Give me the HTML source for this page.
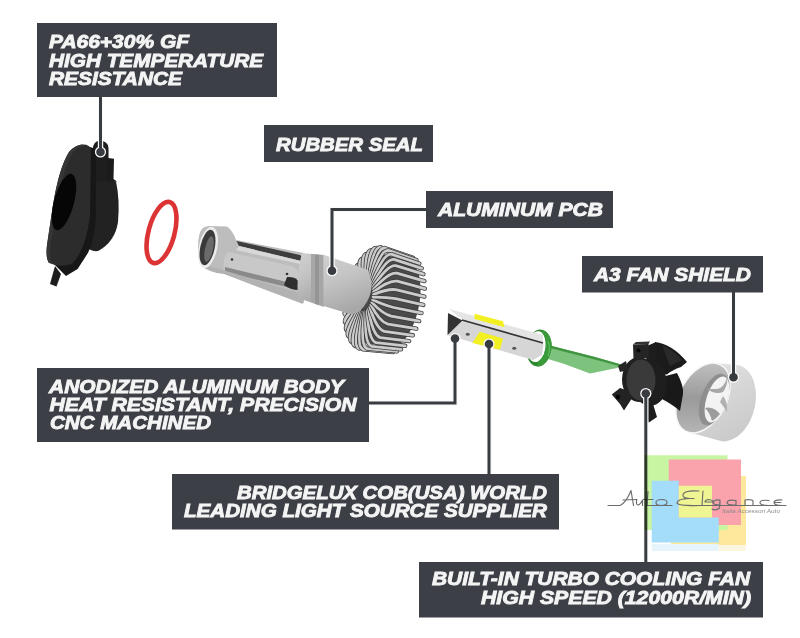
<!DOCTYPE html>
<html><head><meta charset="utf-8">
<style>
html,body{margin:0;padding:0;background:#fff;}
body{width:800px;height:638px;overflow:hidden;position:relative;}
svg{position:absolute;left:0;top:0;}
.t{font-family:"Liberation Sans",sans-serif;font-weight:bold;font-style:italic;font-size:18.5px;fill:#f4f4f4;stroke:#f4f4f4;stroke-width:0.9px;}
</style></head>
<body>
<svg width="800" height="638" viewBox="0 0 800 638">
<defs>
  <linearGradient id="gCyl" x1="0" y1="0" x2="0.3" y2="1">
    <stop offset="0" stop-color="#d0d0d0"/>
    <stop offset="0.45" stop-color="#c4c4c4"/>
    <stop offset="1" stop-color="#a8a8a8"/>
  </linearGradient>
  <clipPath id="clipR"><rect x="540" y="300" width="30" height="100"/></clipPath>
  <linearGradient id="gBody" x1="0" y1="0" x2="0" y2="1">
    <stop offset="0" stop-color="#d4d4d4"/>
    <stop offset="0.5" stop-color="#bdbdbd"/>
    <stop offset="1" stop-color="#8e8e8e"/>
  </linearGradient>
  <linearGradient id="gShield" x1="0" y1="0" x2="0.6" y2="1">
    <stop offset="0" stop-color="#ececec"/>
    <stop offset="0.5" stop-color="#d8d8d8"/>
    <stop offset="1" stop-color="#cbcbcb"/>
  </linearGradient>
  <linearGradient id="gShieldIn" x1="0.2" y1="0" x2="0.5" y2="1">
    <stop offset="0" stop-color="#c4c4c4"/>
    <stop offset="0.55" stop-color="#9a9a9a"/>
    <stop offset="1" stop-color="#b4b4b4"/>
  </linearGradient>
</defs>

<!-- ============ BLACK ADAPTER ============ -->
<g id="adapter">
  <path d="M55 266 L61 274 L56.5 286.5 L50 284 Z" fill="#1d1d1d"/>
  <path d="M92.6 150 Q93 141 100 140.5 Q108 141 108.5 148 L108.5 190 L94 190 Z" fill="#1e1e1e"/>
  <path d="M108 158 L114 158.8 L113.5 179 L117 181.4 L106 183 Z" fill="#1b1b1b"/>
  <path d="M94 181 L116 181.4 Q120 200 118 222 Q115 242 98 251 Q90 252 86 246 Z" fill="#222"/>
  <path d="M84 145 L96 149 L96 215 Q94 245 86 256 L77.6 269 L66 276 L54 264 Q66 262 70 258 Q82 246 86 215 Z" fill="#171717"/>
  <path d="M82 144.5 Q90 144 91 150 L90 215 Q86 250 72 264 Q60 268 49 263 Q45.5 258 47 245 L53 205 Q59 168 69 152 Q75 145 82 144.5 Z" fill="#2c2c2c"/>
  <path d="M82 144.5 Q75 145 69 152 Q59 168 53 205 L47 245 Q45.5 258 49 263 L51.5 263 Q49 255 51 243 L57 205 Q63 170 72 154 Q77 147 84 146 Z" fill="#363636"/>
  <ellipse cx="64" cy="202" rx="10" ry="29" transform="rotate(15 64 202)" fill="#060606"/>
</g>

<!-- ============ O-RING ============ -->
<ellipse cx="161.5" cy="232.5" rx="13" ry="31.5" transform="rotate(15 161.5 232.5)" fill="none" stroke="#dc3434" stroke-width="4.6"/>

<!-- ============ BULB BODY ============ -->
<g id="bulb">
  <!-- heatsink -->
<!--HS-->
<path d="M345.7 311.7 L345.7 309.5 L345.9 307.2 L346.0 304.9 L346.3 302.5 L346.6 300.2 L346.9 297.8 L347.3 295.5 L347.8 293.1 L348.3 290.8 L348.9 288.5 L349.6 286.2 L350.2 283.9 L351.0 281.7 L351.7 279.5 L352.6 277.4 L353.4 275.3 L354.3 273.3 L355.3 271.3 L356.2 269.4 L357.3 267.6 L358.3 265.9 L359.4 264.3 L360.4 262.7 L361.5 261.3 L362.7 259.9 L363.8 258.7 L365.0 257.5 L366.1 256.5 L367.3 255.6 L368.5 254.8 L369.6 254.1 L370.8 253.5 L371.9 253.1 L373.1 252.7 L374.2 252.5 L375.3 252.5 L376.4 252.5 L377.5 252.7 L378.5 252.9 L409.3 261.6 L410.3 262.0 L411.2 262.5 L412.1 263.1 L413.0 263.9 L413.8 264.7 L414.6 265.6 L415.4 266.7 L416.1 267.9 L416.7 269.1 L417.3 270.5 L417.9 271.9 L418.4 273.4 L418.9 275.1 L419.3 276.7 L419.6 278.5 L419.9 280.4 L420.1 282.3 L420.3 284.2 L420.4 286.2 L420.5 288.3 L420.5 290.4 L420.5 292.6 L420.3 294.8 L420.2 297.0 L420.0 299.2 L419.7 301.4 L419.3 303.7 L418.9 305.9 L418.5 308.2 L418.0 310.4 L417.4 312.6 L416.8 314.8 L416.2 316.9 L415.5 319.1 L414.7 321.2 L414.0 323.2 L413.1 325.2 L412.3 327.1 L411.4 329.0 L410.4 330.8 L409.5 332.5 L408.5 334.1 L407.5 335.7 L406.4 337.2 L405.4 338.6 L404.3 339.8 L403.2 341.0 L402.1 342.1 L401.0 343.1 L399.9 344.0 L398.8 344.8 L397.7 345.4 L396.6 346.0 L395.5 346.4 L394.4 346.7 L393.3 346.9 L392.2 347.0 L391.2 346.9 L359.5 342.3 L358.4 342.2 L357.4 341.9 L356.4 341.5 L355.4 341.0 L354.5 340.3 L353.6 339.5 L352.7 338.7 L351.9 337.7 L351.1 336.6 L350.3 335.4 L349.6 334.0 L349.0 332.6 L348.4 331.1 L347.9 329.5 L347.4 327.8 L347.0 326.0 L346.6 324.2 L346.3 322.3 L346.1 320.3 L345.9 318.2 L345.8 316.1 L345.7 313.9 Z" fill="#4a4a4a"/>
<path d="M358.9 296.9 Q340.8 296.2 348.1 297.8" stroke="#3c3c3c" stroke-width="4.4" fill="none" stroke-linejoin="round" stroke-linecap="round"/>
<path d="M358.9 296.9 Q340.8 296.2 348.1 297.8" stroke="#cbcbcb" stroke-width="2.8" fill="none" stroke-linejoin="round" stroke-linecap="round"/>
<path d="M359.4 294.2 Q342.6 287.5 350.0 289.0" stroke="#3c3c3c" stroke-width="4.4" fill="none" stroke-linejoin="round" stroke-linecap="round"/>
<path d="M359.4 294.2 Q342.6 287.5 350.0 289.0" stroke="#cbcbcb" stroke-width="2.8" fill="none" stroke-linejoin="round" stroke-linecap="round"/>
<path d="M358.5 299.5 Q339.6 304.9 347.0 306.7" stroke="#3c3c3c" stroke-width="4.4" fill="none" stroke-linejoin="round" stroke-linecap="round"/>
<path d="M358.5 299.5 Q339.6 304.9 347.0 306.7" stroke="#cbcbcb" stroke-width="2.8" fill="none" stroke-linejoin="round" stroke-linecap="round"/>
<path d="M360.2 291.6 Q345.1 279.1 352.6 280.4" stroke="#3c3c3c" stroke-width="4.4" fill="none" stroke-linejoin="round" stroke-linecap="round"/>
<path d="M360.2 291.6 Q345.1 279.1 352.6 280.4" stroke="#cbcbcb" stroke-width="2.8" fill="none" stroke-linejoin="round" stroke-linecap="round"/>
<path d="M358.4 302.1 Q339.2 313.3 346.6 315.3" stroke="#3c3c3c" stroke-width="4.4" fill="none" stroke-linejoin="round" stroke-linecap="round"/>
<path d="M358.4 302.1 Q339.2 313.3 346.6 315.3" stroke="#cbcbcb" stroke-width="2.8" fill="none" stroke-linejoin="round" stroke-linecap="round"/>
<path d="M361.1 289.2 Q348.2 271.2 355.7 272.3" stroke="#3c3c3c" stroke-width="4.4" fill="none" stroke-linejoin="round" stroke-linecap="round"/>
<path d="M361.1 289.2 Q348.2 271.2 355.7 272.3" stroke="#cbcbcb" stroke-width="2.8" fill="none" stroke-linejoin="round" stroke-linecap="round"/>
<path d="M362.2 287.1 Q351.7 264.1 359.3 265.1" stroke="#3c3c3c" stroke-width="4.4" fill="none" stroke-linejoin="round" stroke-linecap="round"/>
<path d="M362.2 287.1 Q351.7 264.1 359.3 265.1" stroke="#cbcbcb" stroke-width="2.8" fill="none" stroke-linejoin="round" stroke-linecap="round"/>
<path d="M358.5 304.6 Q339.6 321.3 346.9 323.4" stroke="#3c3c3c" stroke-width="4.4" fill="none" stroke-linejoin="round" stroke-linecap="round"/>
<path d="M358.5 304.6 Q339.6 321.3 346.9 323.4" stroke="#cbcbcb" stroke-width="2.8" fill="none" stroke-linejoin="round" stroke-linecap="round"/>
<path d="M358.9 306.8 Q340.7 328.5 348.0 330.8" stroke="#3c3c3c" stroke-width="4.4" fill="none" stroke-linejoin="round" stroke-linecap="round"/>
<path d="M358.9 306.8 Q340.7 328.5 348.0 330.8" stroke="#cbcbcb" stroke-width="2.8" fill="none" stroke-linejoin="round" stroke-linecap="round"/>
<path d="M363.4 285.2 Q355.7 258.0 363.3 258.8" stroke="#3c3c3c" stroke-width="4.4" fill="none" stroke-linejoin="round" stroke-linecap="round"/>
<path d="M363.4 285.2 Q355.7 258.0 363.3 258.8" stroke="#cbcbcb" stroke-width="2.8" fill="none" stroke-linejoin="round" stroke-linecap="round"/>
<path d="M359.4 308.7 Q342.5 334.7 349.9 337.1" stroke="#3c3c3c" stroke-width="4.4" fill="none" stroke-linejoin="round" stroke-linecap="round"/>
<path d="M359.4 308.7 Q342.5 334.7 349.9 337.1" stroke="#cbcbcb" stroke-width="2.8" fill="none" stroke-linejoin="round" stroke-linecap="round"/>
<path d="M364.7 283.7 Q359.9 253.0 367.6 253.8" stroke="#3c3c3c" stroke-width="4.4" fill="none" stroke-linejoin="round" stroke-linecap="round"/>
<path d="M364.7 283.7 Q359.9 253.0 367.6 253.8" stroke="#cbcbcb" stroke-width="2.8" fill="none" stroke-linejoin="round" stroke-linecap="round"/>
<path d="M360.2 310.2 Q345.0 339.7 352.4 342.3" stroke="#3c3c3c" stroke-width="4.4" fill="none" stroke-linejoin="round" stroke-linecap="round"/>
<path d="M360.2 310.2 Q345.0 339.7 352.4 342.3" stroke="#cbcbcb" stroke-width="2.8" fill="none" stroke-linejoin="round" stroke-linecap="round"/>
<path d="M366.0 282.6 Q364.2 249.4 372.0 250.1" stroke="#3c3c3c" stroke-width="4.4" fill="none" stroke-linejoin="round" stroke-linecap="round"/>
<path d="M366.0 282.6 Q364.2 249.4 372.0 250.1" stroke="#cbcbcb" stroke-width="2.8" fill="none" stroke-linejoin="round" stroke-linecap="round"/>
<path d="M361.1 311.4 Q348.0 343.5 355.5 346.1" stroke="#3c3c3c" stroke-width="4.4" fill="none" stroke-linejoin="round" stroke-linecap="round"/>
<path d="M361.1 311.4 Q348.0 343.5 355.5 346.1" stroke="#cbcbcb" stroke-width="2.8" fill="none" stroke-linejoin="round" stroke-linecap="round"/>
<path d="M367.4 281.9 Q368.5 247.2 376.4 247.9" stroke="#3c3c3c" stroke-width="4.4" fill="none" stroke-linejoin="round" stroke-linecap="round"/>
<path d="M367.4 281.9 Q368.5 247.2 376.4 247.9" stroke="#cbcbcb" stroke-width="2.8" fill="none" stroke-linejoin="round" stroke-linecap="round"/>
<path d="M362.2 312.1 Q351.5 345.8 359.1 348.5" stroke="#3c3c3c" stroke-width="4.4" fill="none" stroke-linejoin="round" stroke-linecap="round"/>
<path d="M362.2 312.1 Q351.5 345.8 359.1 348.5" stroke="#cbcbcb" stroke-width="2.8" fill="none" stroke-linejoin="round" stroke-linecap="round"/>
<path d="M368.6 281.7 Q372.6 246.5 380.6 247.2" stroke="#3c3c3c" stroke-width="4.4" fill="none" stroke-linejoin="round" stroke-linecap="round"/>
<path d="M368.6 281.7 Q372.6 246.5 380.6 247.2" stroke="#cbcbcb" stroke-width="2.8" fill="none" stroke-linejoin="round" stroke-linecap="round"/>
<path d="M363.4 312.3 Q355.4 346.7 363.1 349.3 L393.1 352.0" stroke="#3c3c3c" stroke-width="4.4" fill="none" stroke-linejoin="round" stroke-linecap="round"/>
<path d="M363.4 312.3 Q355.4 346.7 363.1 349.3 L393.1 352.0" stroke="#cbcbcb" stroke-width="2.8" fill="none" stroke-linejoin="round" stroke-linecap="round"/>
<path d="M369.8 281.9 Q376.6 247.3 384.6 248.0 L413.1 257.8" stroke="#3c3c3c" stroke-width="4.4" fill="none" stroke-linejoin="round" stroke-linecap="round"/>
<path d="M369.8 281.9 Q376.6 247.3 384.6 248.0 L413.1 257.8" stroke="#cbcbcb" stroke-width="2.8" fill="none" stroke-linejoin="round" stroke-linecap="round"/>
<path d="M370.9 282.6 Q380.1 249.7 388.2 250.4 L416.4 260.0" stroke="#3c3c3c" stroke-width="4.4" fill="none" stroke-linejoin="round" stroke-linecap="round"/>
<path d="M370.9 282.6 Q380.1 249.7 388.2 250.4 L416.4 260.0" stroke="#cbcbcb" stroke-width="2.8" fill="none" stroke-linejoin="round" stroke-linecap="round"/>
<path d="M364.6 312.1 Q359.6 346.0 367.3 348.6 L397.0 351.3" stroke="#3c3c3c" stroke-width="4.4" fill="none" stroke-linejoin="round" stroke-linecap="round"/>
<path d="M364.6 312.1 Q359.6 346.0 367.3 348.6 L397.0 351.3" stroke="#cbcbcb" stroke-width="2.8" fill="none" stroke-linejoin="round" stroke-linecap="round"/>
<path d="M366.0 311.4 Q363.9 343.8 371.7 346.4 L401.1 349.3" stroke="#3c3c3c" stroke-width="4.4" fill="none" stroke-linejoin="round" stroke-linecap="round"/>
<path d="M366.0 311.4 Q363.9 343.8 371.7 346.4 L401.1 349.3" stroke="#cbcbcb" stroke-width="2.8" fill="none" stroke-linejoin="round" stroke-linecap="round"/>
<path d="M371.8 283.8 Q383.1 253.4 391.3 254.2 L419.3 263.5" stroke="#3c3c3c" stroke-width="4.4" fill="none" stroke-linejoin="round" stroke-linecap="round"/>
<path d="M371.8 283.8 Q383.1 253.4 391.3 254.2 L419.3 263.5" stroke="#cbcbcb" stroke-width="2.8" fill="none" stroke-linejoin="round" stroke-linecap="round"/>
<path d="M372.6 285.3 Q385.6 258.5 393.9 259.4 L421.7 268.3" stroke="#3c3c3c" stroke-width="4.4" fill="none" stroke-linejoin="round" stroke-linecap="round"/>
<path d="M372.6 285.3 Q385.6 258.5 393.9 259.4 L421.7 268.3" stroke="#cbcbcb" stroke-width="2.8" fill="none" stroke-linejoin="round" stroke-linecap="round"/>
<path d="M367.3 310.3 Q368.2 340.2 376.1 342.7 L405.2 345.8" stroke="#3c3c3c" stroke-width="4.4" fill="none" stroke-linejoin="round" stroke-linecap="round"/>
<path d="M367.3 310.3 Q368.2 340.2 376.1 342.7 L405.2 345.8" stroke="#cbcbcb" stroke-width="2.8" fill="none" stroke-linejoin="round" stroke-linecap="round"/>
<path d="M368.6 308.8 Q372.4 335.2 380.4 337.7 L409.2 341.1" stroke="#3c3c3c" stroke-width="4.4" fill="none" stroke-linejoin="round" stroke-linecap="round"/>
<path d="M368.6 308.8 Q372.4 335.2 380.4 337.7 L409.2 341.1" stroke="#cbcbcb" stroke-width="2.8" fill="none" stroke-linejoin="round" stroke-linecap="round"/>
<path d="M373.1 287.2 Q387.4 264.7 395.7 265.7 L423.4 274.2" stroke="#3c3c3c" stroke-width="4.4" fill="none" stroke-linejoin="round" stroke-linecap="round"/>
<path d="M373.1 287.2 Q387.4 264.7 395.7 265.7 L423.4 274.2" stroke="#cbcbcb" stroke-width="2.8" fill="none" stroke-linejoin="round" stroke-linecap="round"/>
<path d="M369.8 306.9 Q376.3 329.1 384.4 331.4 L412.9 335.3" stroke="#3c3c3c" stroke-width="4.4" fill="none" stroke-linejoin="round" stroke-linecap="round"/>
<path d="M369.8 306.9 Q376.3 329.1 384.4 331.4 L412.9 335.3" stroke="#cbcbcb" stroke-width="2.8" fill="none" stroke-linejoin="round" stroke-linecap="round"/>
<path d="M373.5 289.4 Q388.5 271.9 396.8 273.1 L424.4 281.1" stroke="#3c3c3c" stroke-width="4.4" fill="none" stroke-linejoin="round" stroke-linecap="round"/>
<path d="M373.5 289.4 Q388.5 271.9 396.8 273.1 L424.4 281.1" stroke="#cbcbcb" stroke-width="2.8" fill="none" stroke-linejoin="round" stroke-linecap="round"/>
<path d="M370.9 304.8 Q379.9 322.0 388.0 324.2 L416.3 328.6" stroke="#3c3c3c" stroke-width="4.4" fill="none" stroke-linejoin="round" stroke-linecap="round"/>
<path d="M370.9 304.8 Q379.9 322.0 388.0 324.2 L416.3 328.6" stroke="#cbcbcb" stroke-width="2.8" fill="none" stroke-linejoin="round" stroke-linecap="round"/>
<path d="M373.6 291.9 Q388.9 279.8 397.2 281.2 L424.8 288.6" stroke="#3c3c3c" stroke-width="4.4" fill="none" stroke-linejoin="round" stroke-linecap="round"/>
<path d="M373.6 291.9 Q388.9 279.8 397.2 281.2 L424.8 288.6" stroke="#cbcbcb" stroke-width="2.8" fill="none" stroke-linejoin="round" stroke-linecap="round"/>
<path d="M371.8 302.4 Q383.0 314.1 391.2 316.1 L419.2 321.1" stroke="#3c3c3c" stroke-width="4.4" fill="none" stroke-linejoin="round" stroke-linecap="round"/>
<path d="M371.8 302.4 Q383.0 314.1 391.2 316.1 L419.2 321.1" stroke="#cbcbcb" stroke-width="2.8" fill="none" stroke-linejoin="round" stroke-linecap="round"/>
<path d="M373.5 294.5 Q388.5 288.3 396.8 289.8 L424.4 296.6" stroke="#3c3c3c" stroke-width="4.4" fill="none" stroke-linejoin="round" stroke-linecap="round"/>
<path d="M373.5 294.5 Q388.5 288.3 396.8 289.8 L424.4 296.6" stroke="#cbcbcb" stroke-width="2.8" fill="none" stroke-linejoin="round" stroke-linecap="round"/>
<path d="M372.6 299.8 Q385.5 305.7 393.7 307.5 L421.5 313.1" stroke="#3c3c3c" stroke-width="4.4" fill="none" stroke-linejoin="round" stroke-linecap="round"/>
<path d="M372.6 299.8 Q385.5 305.7 393.7 307.5 L421.5 313.1" stroke="#cbcbcb" stroke-width="2.8" fill="none" stroke-linejoin="round" stroke-linecap="round"/>
<path d="M373.1 297.1 Q387.3 297.0 395.6 298.7 L423.3 304.9" stroke="#3c3c3c" stroke-width="4.4" fill="none" stroke-linejoin="round" stroke-linecap="round"/>
<path d="M373.1 297.1 Q387.3 297.0 395.6 298.7 L423.3 304.9" stroke="#cbcbcb" stroke-width="2.8" fill="none" stroke-linejoin="round" stroke-linecap="round"/>
<!--/HS-->
  <!-- body arm -->
  <path d="M199 236 Q201 225 210 226 L227 226.5 Q233 231 236 240 L304 253 L304 303 L224 273 Q207 272 202 266 Q196 252 199 236 Z" fill="#bdbdbd"/>
  <path d="M236.5 241 L300 255 Q305 258 301 261 L239 246 Z" fill="#3e3e3e"/>
  <path d="M239 246 L301 261 L300 264 L236 250 Z" fill="#d8d8d8"/>
  <path d="M228 252 L292 266 Q300 270 299 278 L299 290 L224 271 Q222 258 228 252 Z" fill="#c8c8c8"/>
  <path d="M225 267 L299 285 L299 290 L225 272 Z" fill="#8a8a8a"/>
  <path d="M287 277 Q297 276 299 283 L299 290 Q290 290 284 285 Z" fill="#2e2e2e"/>
  <path d="M203 264 L302 294 L303 304 L224 274 Q208 273 203 264 Z" fill="#b2b2b2"/>
  <circle cx="232" cy="259.5" r="1.3" fill="#333"/>
  <circle cx="287" cy="274" r="1.3" fill="#333"/>
  <!-- collar band -->
  <path d="M302 253 L324 255 L324 307 L298 298 Q296 275 302 253 Z" fill="url(#gCyl)"/>
  <path d="M311 254 L323.5 255 L323.5 306 L311 302 Z" fill="#a6a6a6"/>
  <path d="M315 254.5 L319 255 L319 305 L315 304 Z" fill="#959595"/>
  <!-- cylinder -->
  <path d="M323.5 254.7 L368 270 Q378 292 360 311 Q355 315 350 314 L323.5 306 Z" fill="url(#gCyl)"/>
  <!-- front ring -->
  <ellipse cx="208" cy="247.5" rx="9.2" ry="21" transform="rotate(12 208 247.5)" fill="#ececec"/>
  <ellipse cx="207.5" cy="247.5" rx="7.2" ry="18" transform="rotate(12 207.5 247.5)" fill="#3a3a3a"/>
  <ellipse cx="209" cy="249" rx="4" ry="13" transform="rotate(12 209 249)" fill="#6a6a6a"/>
</g>

<path fill-rule="evenodd" fill="#2f8a2f" d="M551.5 348 A12.5 18.5 0 1 1 526.5 348 A12.5 18.5 0 1 1 551.5 348 Z M545.5 347 A9 15.5 0 1 0 527.5 347 A9 15.5 0 1 0 545.5 347 Z" transform="rotate(8 539 348)"/>
<!-- ============ PCB ============ -->
<g id="pcb">
  <path d="M449 309 L543 335 L543 344 L463 320 Z" fill="#e4e4e4"/>
  <path d="M447 335 L463 320 L543.5 344 L542 355 L533 360 Z" fill="#d6d6d6"/>
  <path d="M448 313 L462.5 320.5 L447.5 335 Z" fill="#333"/>
  <path d="M462 320 L543 343" stroke="#333" stroke-width="1.6"/>
  <path d="M474.5 313.75 L503 321.25 L504.5 327.25 L474.5 319 Z" fill="#f2ef22"/>
  <path d="M479.75 331.75 L503 338.5 L500 349.75 L472.25 343 Z" fill="#f2ef22"/>
  <ellipse cx="467.75" cy="334.3" rx="2" ry="1.5" fill="#555"/>
  <ellipse cx="514.25" cy="348.25" rx="2" ry="1.5" fill="#555"/>
</g>

<!-- ============ GREEN STRIP + RING ============ -->
<path d="M548 345 L593 356.5 L623 365 L617 368 L590 373.5 L563 363.5 L548 359 Z" fill="#7dc27d"/>
<path d="M548 345 L593 356.5 L623 365 L621 366.5 L593 359 L548 347.5 Z" fill="#3f953f"/>
<path fill-rule="evenodd" fill="#3a9a3a" clip-path="url(#clipR)" d="M551.5 348 A12.5 18.5 0 1 1 526.5 348 A12.5 18.5 0 1 1 551.5 348 Z M545.5 347 A9 15.5 0 1 0 527.5 347 A9 15.5 0 1 0 545.5 347 Z" transform="rotate(8 539 348)"/>
<path d="M548 341 Q551 348 548 356" stroke="#5cb85c" stroke-width="1.2" fill="none"/>
<!-- ============ FAN SHIELD ============ -->
<g id="shield">
  <path d="M675.8 410.3 L676.0 406.8 L676.5 403.2 L677.3 399.6 L678.4 395.9 L680.5 390.5 L683.2 385.2 L685.3 381.9 L687.5 378.8 L692.5 373.1 L695.2 370.7 L699.4 367.6 L702.2 366.0 L705.0 364.7 L707.9 363.8 L710.6 363.3 L713.3 363.1 L735.7 364.7 L739.7 365.5 L742.3 366.6 L744.6 368.1 L746.8 369.9 L748.9 372.1 L751.5 376.1 L752.9 379.1 L754.1 382.4 L755.6 389.5 L755.9 393.4 L755.8 399.3 L755.4 403.3 L754.7 407.3 L753.1 413.2 L750.9 418.9 L749.2 422.4 L747.2 425.8 L745.0 428.9 L742.7 431.7 L738.9 435.3 L736.2 437.3 L732.0 439.6 L726.4 441.2 L723.6 441.4 L720.9 441.1 L687.7 432.1 L685.4 431.1 L683.3 429.8 L681.5 428.1 L679.8 426.1 L678.5 423.8 L677.4 421.2 L676.3 416.8 L675.9 413.6 Z" fill="url(#gShield)"/>
  <ellipse cx="703" cy="398" rx="23.5" ry="37.5" transform="rotate(28 703 398)" fill="url(#gShieldIn)" stroke="#f8f8f8" stroke-width="1.4"/>
  <ellipse cx="714" cy="399.5" rx="13" ry="27" transform="rotate(20 714 399.5)" fill="#8e8e8e"/>
  <ellipse cx="717" cy="399.5" rx="10.5" ry="24" transform="rotate(18 717 399.5)" fill="#f3f3f3"/>
  <path d="M707 389 Q715 395 723 392 Q728 385 727 378 Q724 388 717 389 Q711 389 707 389 Z" fill="#a8a8a8"/>
  <path d="M705 408 Q713 406 720 414 Q716 419 712 421 Q710 413 705 408 Z" fill="#9c9c9c"/>
  <path d="M723 396 Q728 402 727 412 Q724 407 720 402 Z" fill="#b0b0b0"/>
</g>

<!-- ============ FAN ============ -->
<g id="fan">
  <path d="M655 342 Q672 344 687 362 L681 367 Q672 370 667 374.5 L654 373 Z" fill="#1b1b1b"/>
  <path d="M662 345 Q674 350 682 360 L670 366 Z" fill="#2a2a2a"/>
  <path d="M658 378 L677 373 Q684 386 683 394 L680 411 Q672 404 660 398 Z" fill="#191919"/>
  <path d="M645 401 L653 404 L657 417 L648.5 422.7 Z" fill="#1c1c1c"/>
  <ellipse cx="650" cy="384" rx="17" ry="22" fill="#1e1e1e"/>
  <ellipse cx="639" cy="379.5" rx="17" ry="22.5" fill="#202020"/>
  <path d="M647 346 L656 342 L656 374 L646 362 Z" fill="#1d1d1d"/>
  <path d="M633 344.5 L648.5 344 L649 358 L633.5 359 Z" fill="#252525"/>
  <path d="M633 344.5 L636 342 L650 341.5 L648.5 344 Z" fill="#333"/>
  <path d="M611.8 394.5 L620 388 L631.5 392 L631.5 399 L624 410.5 L620 404 Z" fill="#232323"/>
  <path d="M618 366 L626 361 L628 370 L620 372 Z" fill="#262626"/>
  <ellipse cx="641" cy="380" rx="14.5" ry="20.5" fill="#3a3a3a"/>
  <circle cx="638.5" cy="350.5" r="2" fill="#050505"/>
  <circle cx="618" cy="397" r="2.2" fill="#050505"/>
</g>

<!-- ============ LINES ============ -->
<g stroke="#fafafa" stroke-width="5.4" fill="none">
  <path d="M100.5 97 V152"/>
  <path d="M426 209.5 H332 V270.7"/>
  <path d="M733.5 292 V377.3"/>
  <path d="M369 403 H455 V338.5"/>
  <path d="M489 474 V344"/>
  <path d="M645.8 562 V393.5"/>
</g>
<g fill="#fafafa">
  <circle cx="100.5" cy="152" r="5.6"/>
  <circle cx="332" cy="270.7" r="5.6"/>
  <circle cx="733.5" cy="377.3" r="5.6"/>
  <circle cx="455" cy="338.5" r="5.6"/>
  <circle cx="489" cy="344" r="5.6"/>
  <circle cx="645.8" cy="393.5" r="5.6"/>
</g>
<g stroke="#383b40" stroke-width="3" fill="none">
  <path d="M100.5 97 V152"/>
  <path d="M426 209.5 H332 V270.7"/>
  <path d="M733.5 292 V377.3"/>
  <path d="M369 403 H455 V338.5"/>
  <path d="M489 474 V344"/>
  <path d="M645.8 562 V393.5"/>
</g>
<g fill="#383b40">
  <circle cx="100.5" cy="152" r="4.3"/>
  <circle cx="332" cy="270.7" r="4.3"/>
  <circle cx="733.5" cy="377.3" r="4.3"/>
  <circle cx="455" cy="338.5" r="4.3"/>
  <circle cx="489" cy="344" r="4.3"/>
  <circle cx="645.8" cy="393.5" r="4.3"/>
</g>

<!-- ============ LOGO ============ -->
<g id="logo" style="mix-blend-mode:multiply">
  <rect x="671" y="476" width="75" height="69" fill="#fde89c"/>
  <rect x="644.3" y="455.3" width="83.2" height="74.7" fill="#c8f5a2"/>
  <rect x="668.75" y="459.5" width="72.25" height="65.5" fill="#fba3ad"/>
  <path d="M651.75 480.75 H678.75 V517.5 H718.75 V542.5 H651.75 Z" fill="#a3ddf9"/>
  <rect x="678.75" y="485.75" width="33.25" height="31.75" fill="#eff592"/>
  <g fill="none" stroke="#6c6c6c" stroke-width="1.15" stroke-linecap="round" stroke-linejoin="round">
    <path d="M608 505.5 L620 505.5 Q626 503 631 490.5 L633.5 505.5 M623 500 L637 499.5"/>
    <path d="M636.5 500 L636.5 504 Q639 507 642.5 500 L642.5 505.5"/>
    <path d="M648 491.5 L647 505.5 M643.5 499.5 L653 499.5"/>
    <path d="M647 505.5 L672 505.5 M656 502.5 Q656 499.5 662 499.5 Q667 499.5 667 502.5 Q667 505.5 661 505.5 Q656 505.5 656 502.5"/>
    <path d="M699 491 Q682 490 683 496 Q684 498 689 498.5 Q677 499 677 503 Q678 506 700 505.5 M684 498.5 L694 498.5"/>
    <path d="M700 505.5 L786 505.5"/>
    <path d="M703 491 L702 505.5 M705 502 L714 502 Q712 499.5 708 499.5 Q705 500 705 502"/>
    <path d="M720 500 Q713 499.5 713 503 Q714 505 720 505 L720 500 L719.5 508 Q716 511 712 509"/>
    <path d="M736 500.5 Q727 499 727 503 Q728 505.5 736 505 L736 500.5"/>
    <path d="M745 505.5 L745 500 Q752 499 753 501 L753 505.5"/>
    <path d="M769 500.5 Q760 499.5 760 502.5 Q760 505.5 769 505.5"/>
    <path d="M782 500 Q774 499.5 774 502.5 Q774 505.5 782 505.5 M775 502.5 L781 502.5"/>
  </g>
  <text x="722" y="512.5" font-family="Liberation Sans" font-style="italic" font-size="6" fill="#8a8a8a" textLength="58" lengthAdjust="spacingAndGlyphs">Italia Accessori Auto</text>
  <rect x="651.75" y="544" width="67" height="7" fill="#e6f5fc"/>
  <rect x="718.75" y="545" width="27" height="6" fill="#fdf6de"/>
</g>

<!-- ============ BOXES ============ -->
<g fill="#3c3f45">
  <rect x="37" y="23" width="240" height="74"/>
  <rect x="264" y="125" width="169" height="37"/>
  <rect x="426" y="191" width="187" height="37"/>
  <rect x="582" y="256" width="181" height="36.5"/>
  <rect x="37" y="368" width="332" height="74"/>
  <rect x="172" y="474" width="387" height="55.5"/>
  <rect x="419" y="562" width="344" height="55.5"/>
</g>

<!-- ============ TEXT ============ -->
<g class="t">
  <text x="49" y="48.25" textLength="140" lengthAdjust="spacingAndGlyphs">PA66+30% GF</text>
  <text x="49" y="66.5" textLength="214" lengthAdjust="spacingAndGlyphs">HIGH TEMPERATURE</text>
  <text x="49" y="85" textLength="133" lengthAdjust="spacingAndGlyphs">RESISTANCE</text>
  <text x="276" y="150.5" textLength="147" lengthAdjust="spacingAndGlyphs">RUBBER SEAL</text>
  <text x="438" y="215.5" textLength="165" lengthAdjust="spacingAndGlyphs">ALUMINUM PCB</text>
  <text x="594" y="281" textLength="157" lengthAdjust="spacingAndGlyphs">A3 FAN SHIELD</text>
  <text x="49" y="392.75" textLength="295" lengthAdjust="spacingAndGlyphs">ANODIZED ALUMINUM BODY</text>
  <text x="49.5" y="411" textLength="307" lengthAdjust="spacingAndGlyphs">HEAT RESISTANT, PRECISION</text>
  <text x="50" y="429.4" textLength="161" lengthAdjust="spacingAndGlyphs">CNC MACHINED</text>
  <text x="237" y="498.8" textLength="310" lengthAdjust="spacingAndGlyphs">BRIDGELUX COB(USA) WORLD</text>
  <text x="184" y="517.25" textLength="363" lengthAdjust="spacingAndGlyphs">LEADING LIGHT SOURCE SUPPLIER</text>
  <text x="432" y="585" textLength="318" lengthAdjust="spacingAndGlyphs">BUILT-IN TURBO COOLING FAN</text>
  <text x="481" y="603.75" textLength="270" lengthAdjust="spacingAndGlyphs">HIGH SPEED (12000R/MIN)</text>
</g>
</svg>
</body></html>
